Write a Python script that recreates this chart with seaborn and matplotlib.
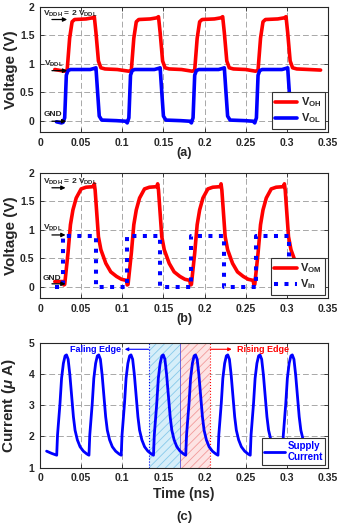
import matplotlib
matplotlib.use('Agg')
import matplotlib.pyplot as plt
import seaborn as sns

sns.set_style('ticks')
plt.rcParams['font.family'] = ['Liberation Sans', 'DejaVu Sans']
plt.rcParams['font.weight'] = 'bold'
plt.rcParams['axes.labelweight'] = 'bold'
plt.rcParams['mathtext.fontset'] = 'custom'
plt.rcParams['mathtext.rm'] = 'Liberation Sans:bold'
plt.rcParams['mathtext.bf'] = 'Liberation Sans:bold'
plt.rcParams['mathtext.it'] = 'Liberation Sans:italic:bold'
plt.rcParams['mathtext.default'] = 'bf'
plt.rcParams['hatch.linewidth'] = 0.6

# --- (a) output levels of the level shifter ---
t_oh = [0.018, 0.030, 0.033, 0.036, 0.039, 0.042, 0.056, 0.064, 0.066, 0.068, 0.071, 0.074, 0.079, 0.094,
        0.108, 0.111, 0.114, 0.117, 0.120, 0.134, 0.142, 0.144, 0.146, 0.149, 0.152, 0.157, 0.172,
        0.185, 0.188, 0.191, 0.194, 0.197, 0.212, 0.220, 0.222, 0.224, 0.227, 0.230, 0.235, 0.250,
        0.262, 0.265, 0.268, 0.271, 0.274, 0.289, 0.297, 0.299, 0.301, 0.304, 0.307, 0.312, 0.327, 0.341]
v_oh = [0.90, 0.87, 0.89, 1.45, 1.74, 1.78, 1.79, 1.81, 1.83, 1.55, 1.05, 0.93, 0.91, 0.90,
        0.87, 0.89, 1.45, 1.74, 1.78, 1.79, 1.81, 1.83, 1.55, 1.05, 0.93, 0.91, 0.90,
        0.87, 0.89, 1.45, 1.74, 1.78, 1.79, 1.81, 1.83, 1.55, 1.05, 0.93, 0.91, 0.90,
        0.87, 0.89, 1.45, 1.74, 1.78, 1.79, 1.81, 1.83, 1.55, 1.05, 0.93, 0.91, 0.90, 0.89]

t_ol = [0.020, 0.026, 0.028, 0.030, 0.032, 0.034, 0.037, 0.061, 0.066, 0.068, 0.070, 0.072, 0.075, 0.093,
        0.104, 0.106, 0.108, 0.110, 0.112, 0.115, 0.139, 0.144, 0.146, 0.148, 0.150, 0.153, 0.171,
        0.182, 0.184, 0.186, 0.188, 0.190, 0.193, 0.217, 0.222, 0.224, 0.226, 0.228, 0.231, 0.249,
        0.259, 0.261, 0.263, 0.265, 0.267, 0.270, 0.294, 0.299, 0.301, 0.303, 0.305, 0.308, 0.340]
v_ol = [-0.02, -0.04, -0.03, 0.05, 0.80, 0.88, 0.90, 0.90, 0.92, 0.93, 0.50, 0.08, 0.01, 0.00,
        -0.01, -0.04, 0.05, 0.80, 0.88, 0.90, 0.90, 0.92, 0.93, 0.50, 0.08, 0.01, 0.00,
        -0.01, -0.04, 0.05, 0.80, 0.88, 0.90, 0.90, 0.92, 0.93, 0.50, 0.08, 0.01, 0.00,
        -0.01, -0.04, 0.05, 0.80, 0.88, 0.90, 0.90, 0.92, 0.93, 0.50, 0.08, 0.01, 0.00]

# --- (b) middle node and input ---
t_om = [0.018, 0.028, 0.029, 0.030, 0.034, 0.037, 0.040, 0.044, 0.050, 0.056, 0.065, 0.066, 0.067,
        0.071, 0.074, 0.080, 0.086, 0.093, 0.099, 0.105,
        0.106, 0.107, 0.111, 0.114, 0.117, 0.121, 0.127, 0.133, 0.142, 0.143, 0.144,
        0.148, 0.151, 0.157, 0.163, 0.170, 0.176, 0.182,
        0.183, 0.184, 0.188, 0.191, 0.194, 0.198, 0.204, 0.210, 0.219, 0.220, 0.221,
        0.225, 0.228, 0.234, 0.240, 0.247, 0.253, 0.259,
        0.260, 0.261, 0.265, 0.268, 0.271, 0.275, 0.281, 0.287, 0.296, 0.297, 0.298,
        0.302, 0.305, 0.311, 0.317, 0.324, 0.330, 0.336]
v_om = [0.09, 0.09, 0.03, 0.04, 0.59, 1.09, 1.35, 1.56, 1.72, 1.75, 1.76, 1.81, 1.70,
        0.88, 0.65, 0.41, 0.26, 0.18, 0.13, 0.11,
        0.03, 0.04, 0.59, 1.09, 1.35, 1.56, 1.72, 1.75, 1.76, 1.81, 1.70,
        0.88, 0.65, 0.41, 0.26, 0.18, 0.13, 0.11,
        0.03, 0.04, 0.59, 1.09, 1.35, 1.56, 1.72, 1.75, 1.76, 1.81, 1.70,
        0.88, 0.65, 0.41, 0.26, 0.18, 0.13, 0.11,
        0.03, 0.04, 0.59, 1.09, 1.35, 1.56, 1.72, 1.75, 1.76, 1.81, 1.70,
        0.88, 0.65, 0.41, 0.26, 0.18, 0.13, 0.11]

t_in = [0.018, 0.028, 0.028, 0.068, 0.068, 0.106, 0.106, 0.146, 0.146,
        0.184, 0.184, 0.224, 0.224, 0.262, 0.262, 0.302, 0.302, 0.340]
v_in = [0.0, 0.0, 0.9, 0.9, 0.0, 0.0, 0.9, 0.9, 0.0,
        0.0, 0.9, 0.9, 0.0, 0.0, 0.9, 0.9, 0.0, 0.0]

# --- (c) supply current ---
t_cur = [0.0080, 0.0140, 0.0195,
         0.0203, 0.0207, 0.0213, 0.0243, 0.0262, 0.0284, 0.0305, 0.0322, 0.0342, 0.0363, 0.0385, 0.0406, 0.0426, 0.0454, 0.0487, 0.0527, 0.0569,
         0.0595, 0.0599, 0.0605, 0.0635, 0.0654, 0.0676, 0.0697, 0.0714, 0.0734, 0.0755, 0.0777, 0.0798, 0.0818, 0.0846, 0.0879, 0.0919, 0.0961,
         0.0987, 0.0991, 0.0997, 0.1027, 0.1046, 0.1068, 0.1089, 0.1106, 0.1126, 0.1147, 0.1169, 0.1190, 0.1210, 0.1238, 0.1271, 0.1311, 0.1353,
         0.1379, 0.1383, 0.1389, 0.1419, 0.1438, 0.1460, 0.1481, 0.1498, 0.1518, 0.1539, 0.1561, 0.1582, 0.1602, 0.1630, 0.1663, 0.1703, 0.1745,
         0.1771, 0.1775, 0.1781, 0.1811, 0.1830, 0.1852, 0.1873, 0.1890, 0.1910, 0.1931, 0.1953, 0.1974, 0.1994, 0.2022, 0.2055, 0.2095, 0.2137,
         0.2163, 0.2167, 0.2173, 0.2203, 0.2222, 0.2244, 0.2265, 0.2282, 0.2302, 0.2323, 0.2345, 0.2366, 0.2386, 0.2414, 0.2447, 0.2487, 0.2529,
         0.2555, 0.2559, 0.2565, 0.2595, 0.2614, 0.2636, 0.2657, 0.2674, 0.2694, 0.2715, 0.2737, 0.2758, 0.2778, 0.2806, 0.2839, 0.2879, 0.2921,
         0.2947, 0.2951, 0.2957, 0.2987, 0.3006, 0.3028, 0.3049, 0.3066, 0.3086, 0.3107, 0.3129, 0.3150, 0.3170, 0.3198, 0.3231, 0.3271, 0.3313]
i_cur = [1.53, 1.46, 1.41,
         1.40, 1.70, 2.05, 3.06, 3.86, 4.34, 4.58, 4.61, 4.47, 3.97, 3.27, 2.63, 2.20, 1.89, 1.67, 1.53, 1.44,
         1.40, 1.70, 2.05, 3.06, 3.86, 4.34, 4.58, 4.61, 4.47, 3.97, 3.27, 2.63, 2.20, 1.89, 1.67, 1.53, 1.44,
         1.40, 1.70, 2.05, 3.06, 3.86, 4.34, 4.58, 4.61, 4.47, 3.97, 3.27, 2.63, 2.20, 1.89, 1.67, 1.53, 1.44,
         1.40, 1.70, 2.05, 3.06, 3.86, 4.34, 4.58, 4.61, 4.47, 3.97, 3.27, 2.63, 2.20, 1.89, 1.67, 1.53, 1.44,
         1.40, 1.70, 2.05, 3.06, 3.86, 4.34, 4.58, 4.61, 4.47, 3.97, 3.27, 2.63, 2.20, 1.89, 1.67, 1.53, 1.44,
         1.40, 1.70, 2.05, 3.06, 3.86, 4.34, 4.58, 4.61, 4.47, 3.97, 3.27, 2.63, 2.20, 1.89, 1.67, 1.53, 1.44,
         1.40, 1.70, 2.05, 3.06, 3.86, 4.34, 4.58, 4.61, 4.47, 3.97, 3.27, 2.63, 2.20, 1.89, 1.67, 1.53, 1.44,
         1.40, 1.70, 2.05, 3.06, 3.86, 4.34, 4.58, 4.61, 4.47, 3.97, 3.27, 2.63, 2.20, 1.89, 1.67, 1.53, 1.44]

fall_span = (0.132, 0.170)
rise_span = (0.170, 0.207)

x_ticks = [0, 0.05, 0.1, 0.15, 0.2, 0.25, 0.3, 0.35]
x_ticklabels = ['0', '0.05', '0.1', '0.15', '0.2', '0.25', '0.3', '0.35']
v_ticks = [0, 0.5, 1, 1.5, 2]
v_ticklabels = ['0', '0.5', '1', '1.5', '2']
i_ticks = [1, 2, 3, 4, 5]

RED = '#ff0000'
BLUE = '#0000ff'

fig = plt.figure(figsize=(3.37, 5.27), dpi=100)
ax_a = fig.add_axes([0.1187, 0.7495, 0.8546, 0.2372])
ax_b = fig.add_axes([0.1187, 0.4345, 0.8546, 0.2372])
ax_c = fig.add_axes([0.1187, 0.1125, 0.8546, 0.2372])


def style_axes(ax, yticks, yticklabels, ylim):
    ax.set_xlim(0, 0.35)
    ax.set_ylim(*ylim)
    ax.set_xticks(x_ticks)
    ax.set_xticklabels(x_ticklabels)
    ax.set_yticks(yticks)
    ax.set_yticklabels(yticklabels)
    ax.grid(True, linestyle=(0, (6, 3)), color='#a8a8a8', lw=0.7)
    ax.set_axisbelow(True)
    ax.tick_params(direction='in', length=3, width=0.6, labelsize=7.5, pad=4,
                   top=True, right=True)
    for s in ax.spines.values():
        s.set_color('#262626')
        s.set_linewidth(0.8)
    ax.yaxis.set_label_coords(-0.078, 0.5)


def arrow(ax, x0, x1, y, color='k', lw=0.9, ms=6):
    ax.annotate('', xy=(x1, y), xytext=(x0, y),
                arrowprops=dict(arrowstyle='-|>', color=color, lw=lw,
                                mutation_scale=ms, shrinkA=0, shrinkB=0))


# (a)
sns.lineplot(x=t_oh, y=v_oh, ax=ax_a, color=RED, lw=2.6, estimator=None, sort=False,
             label=r'$V_{OH}$')
sns.lineplot(x=t_ol, y=v_ol, ax=ax_a, color=BLUE, lw=2.6, estimator=None, sort=False,
             label=r'$V_{OL}$')
style_axes(ax_a, v_ticks, v_ticklabels, (-0.2, 2))
ax_a.set_ylabel('Voltage (V)', fontsize=11)
ax_a.set_xlabel('(a)', fontsize=9)
ax_a.xaxis.set_label_coords(0.5, -0.12)
ax_a.text(0.004, 1.88, r'$V_{DDH}$ = 2 $V_{DDL}$', fontsize=6, va='center')
arrow(ax_a, 0.0145, 0.033, 1.78)
ax_a.text(0.005, 1.0, r'$V_{DDL}$', fontsize=6, va='center')
arrow(ax_a, 0.0145, 0.033, 0.88)
ax_a.text(0.004, 0.10, 'GND', fontsize=6, va='center')
arrow(ax_a, 0.0145, 0.032, -0.01)
ax_a.legend(loc='lower right', fontsize=8, frameon=True, fancybox=False, framealpha=1,
            edgecolor='#333333', borderpad=0.3, handlelength=2.0, handletextpad=0.3,
            labelspacing=0.2, borderaxespad=0.3).get_frame().set_linewidth(0.8)

# (b)
sns.lineplot(x=t_om, y=v_om, ax=ax_b, color=RED, lw=2.6, estimator=None, sort=False,
             label=r'$V_{OM}$')
sns.lineplot(x=t_in, y=v_in, ax=ax_b, color=BLUE, lw=2.9, estimator=None, sort=False,
             linestyle=(0, (1, 1.6)), label=r'$V_{in}$')
style_axes(ax_b, v_ticks, v_ticklabels, (-0.2, 2))
ax_b.set_ylabel('Voltage (V)', fontsize=11)
ax_b.set_xlabel('(b)', fontsize=9)
ax_b.xaxis.set_label_coords(0.5, -0.12)
ax_b.text(0.004, 1.85, r'$V_{DDH}$ = 2 $V_{DDL}$', fontsize=6, va='center')
arrow(ax_b, 0.0145, 0.031, 1.74)
ax_b.text(0.004, 1.03, r'$V_{DDL}$', fontsize=6, va='center')
arrow(ax_b, 0.0145, 0.031, 0.91)
ax_b.text(0.003, 0.15, 'GND', fontsize=6, va='center')
arrow(ax_b, 0.0145, 0.031, 0.05)
ax_b.legend(loc='lower right', fontsize=8, frameon=True, fancybox=False, framealpha=1,
            edgecolor='#333333', borderpad=0.3, handlelength=2.0, handletextpad=0.3,
            labelspacing=0.2, borderaxespad=0.3).get_frame().set_linewidth(0.8)

# (c)
ax_c.axvspan(*fall_span, facecolor='#d6eef9', edgecolor='#86c9ea', hatch='////', lw=0, zorder=1)
ax_c.axvspan(*rise_span, facecolor='#fde3e3', edgecolor='#f29a9a', hatch='////', lw=0, zorder=1)
ax_c.axvline(fall_span[0], color=BLUE, ls=':', lw=0.8, zorder=1.5)
ax_c.axvline(fall_span[1], color='#5050e0', ls='-', lw=0.6, zorder=1.5)
ax_c.axvline(rise_span[1], color=RED, ls=':', lw=0.8, zorder=1.5)
sns.lineplot(x=t_cur, y=i_cur, ax=ax_c, color=BLUE, lw=2.0, estimator=None, sort=False,
             label='Supply\nCurrent', zorder=3)
style_axes(ax_c, i_ticks, [str(v) for v in i_ticks], (1, 5))
ax_c.set_ylabel(r'Current ($\mathit{\mu}$ A)', fontsize=11)
ax_c.set_xlabel('Time (ns)', fontsize=10)
ax_c.xaxis.set_label_coords(0.5, -0.155)
ax_c.text(0.068, 4.79, 'Faling Edge', color=BLUE, fontsize=6.5, ha='center', va='center')
arrow(ax_c, fall_span[0], 0.103, 4.79, color=BLUE, lw=0.8, ms=5)
ax_c.text(0.2715, 4.79, 'Rising Edge', color=RED, fontsize=6.5, ha='center', va='center')
arrow(ax_c, rise_span[1], 0.233, 4.79, color=RED, lw=0.8, ms=5)
leg = ax_c.legend(loc='lower right', fontsize=7, frameon=True, fancybox=False, framealpha=1,
                  edgecolor='#333333', borderpad=0.25, handlelength=2.2, handletextpad=0.2,
                  borderaxespad=0.3, labelcolor=BLUE)
leg.get_frame().set_linewidth(0.8)
fig.text(0.546, 0.019, '(c)', fontsize=9.5, ha='center', va='center')

fig.savefig('out.png', dpi=100)
